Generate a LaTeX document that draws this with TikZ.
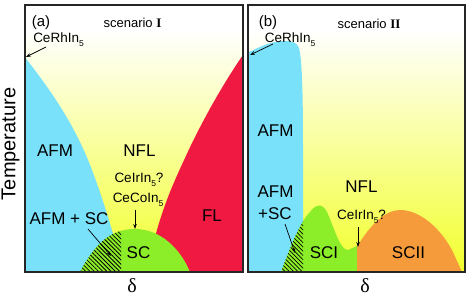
\documentclass[tikz,border=0pt]{standalone}
\usepackage{fontspec}
\setmainfont{Liberation Sans}
\newfontfamily\seriffont{Liberation Serif}
\usetikzlibrary{arrows.meta,patterns.meta}
\definecolor{afmblue}{RGB}{122,225,250}
\definecolor{flred}{RGB}{240,25,65}
\definecolor{scgreen}{RGB}{140,238,40}
\definecolor{scorange}{RGB}{245,155,60}
\definecolor{nflyellow}{RGB}{242,255,45}
\newcommand{\sbs}[1]{\raisebox{-0.5ex}{\fontsize{8.5}{8.5}\selectfont #1}}
\begin{document}
\begin{tikzpicture}[x=1pt,y=-1pt,
  big/.style={font=\fontsize{17}{17}\selectfont, inner sep=0, anchor=base},
  small/.style={font=\fontsize{13.5}{13.5}\selectfont, inner sep=0, anchor=base},
  panel/.style={font=\fontsize{15}{15}\selectfont, inner sep=0, anchor=base},
  scen/.style={font=\fontsize{13}{13}\selectfont, inner sep=0, anchor=base},
  deltalbl/.style={font=\seriffont\fontsize{20}{20}\selectfont, inner sep=0, anchor=base},
  arr/.style={-{Stealth[length=5pt,width=3.5pt]}, line width=0.7pt},
  hatch/.style={pattern={Lines[angle=135,distance=3pt,line width=0.75pt]}},
  frame/.style={draw=black!85, line width=1.5pt}]
\useasboundingbox (0,0) rectangle (471,296);

% ---------- panel (a) ----------
\begin{scope}
  \clip (25,5) rectangle (243,272);
  \fill[white] (25,5) rectangle (243,272);
  \shade[top color=white, bottom color=nflyellow] (25,30) rectangle (243,272);
  \fill[afmblue] (24,56) .. controls (52,92) and (75,125) .. (92,170)
     .. controls (104,202) and (115,238) .. (123,272) -- (24,272) -- cycle;
  \fill[flred] (245,52) .. controls (222,85) and (200,125) .. (185,158)
     .. controls (170,190) and (155,225) .. (148,272) -- (245,272) -- cycle;
  \path[fill=scgreen] (80,272) .. controls (98,238) and (115,229) .. (135,229) .. controls (160,229) and (180,248) .. (190,272) -- cycle;
  \begin{scope}
    \clip (80,272) .. controls (98,238) and (115,229) .. (135,229) .. controls (160,229) and (180,248) .. (190,272) -- cycle;
    \fill[hatch] (70,220) rectangle (121,272);
  \end{scope}
\end{scope}
\draw[frame] (25,5) rectangle (243,272);

\node[panel] (pa) at (41,27) {(a)};
\node[scen] (sa) at (132.5,28) {scenario {\seriffont\bfseries I}};
\node[small] (rha) at (58.5,43) {CeRhIn\sbs{5}};
\coordinate (rhapt) at (26,57);
\draw[arr] (46,47) -- (rhapt);
\node[big] (afma) at (55,157) {AFM};
\node[big] (nfla) at (139.5,157) {NFL};
\node[small] (ira) at (139,183) {CeIrIn\sbs{5}?};
\node[small] (coa) at (138,203) {CeCoIn\sbs{5}};
\coordinate (coapt) at (135,229);
\draw[arr] (135,210) -- (coapt);
\node[big] (afmsca) at (69,225) {AFM + SC};
\coordinate (hatchapt) at (111,256);
\draw[arr] (88,229) -- (hatchapt);
\node[big] (sca) at (138.5,259) {SC};
\node[big] (fla) at (212,222) {FL};
\node[deltalbl] (da) at (132,293) {δ};

% ---------- panel (b) ----------
\begin{scope}
  \clip (248,5) rectangle (465,272);
  \fill[white] (248,5) rectangle (465,272);
  \shade[top color=white, bottom color=nflyellow] (248,30) rectangle (465,272);
  \fill[afmblue] (247,53) .. controls (258,48) and (268,42) .. (283,41)
     .. controls (292,41) and (297,42) .. (299,48)
     .. controls (302,60) and (303,90) .. (303,150) -- (303,272) -- (247,272) -- cycle;
  \path[fill=scgreen] (281,272) .. controls (290,248) and (300,222) .. (310,212)
     .. controls (315,205) and (322,202) .. (327,212)
     .. controls (335,230) and (340,250) .. (348,250) -- (357,246) -- (357,272) -- cycle;
  \begin{scope}
    \clip (281,272) .. controls (290,248) and (300,222) .. (310,212)
     .. controls (315,205) and (322,202) .. (327,212)
     .. controls (335,230) and (340,250) .. (348,250) -- (357,246) -- (357,272) -- cycle;
    \fill[hatch] (270,200) rectangle (303,272);
  \end{scope}
  \path[fill=scorange] (357,272) -- (357,247) .. controls (370,225) and (385,210) .. (400,210)
     .. controls (420,210) and (440,228) .. (452,250) -- (462,272) -- cycle;
\end{scope}
\draw[frame] (248,5) rectangle (465,272);

\node[panel] (pb) at (268,27) {(b)};
\node[scen] (sb) at (369,29) {scenario {\seriffont\bfseries II}};
\node[small] (rhb) at (290,43) {CeRhIn\sbs{5}};
\coordinate (rhbpt) at (250,55);
\draw[arr] (273,44) -- (rhbpt);
\node[big] (afmb) at (275.5,137) {AFM};
\node[big] (afmb2) at (275.5,198) {AFM};
\node[big] (scb) at (275,220) {+SC};
\coordinate (hatchbpt) at (295,253);
\draw[arr] (285,224) -- (hatchbpt);
\node[big] (nflb) at (361.5,193) {NFL};
\node[small] (irb) at (361.5,220) {CeIrIn\sbs{5}?};
\coordinate (irbpt) at (358,247);
\draw[arr] (358,227) -- (irbpt);
\node[big] (scib) at (324,259) {SCI};
\node[big] (sciib) at (408.5,259) {SCII};
\node[deltalbl] (db) at (365,293) {δ};

% axis label
\node[font=\fontsize{20}{20}\selectfont, inner sep=0, anchor=base, rotate=90] (temp) at (15.5,144) {Temperature};
\end{tikzpicture}
\end{document}
